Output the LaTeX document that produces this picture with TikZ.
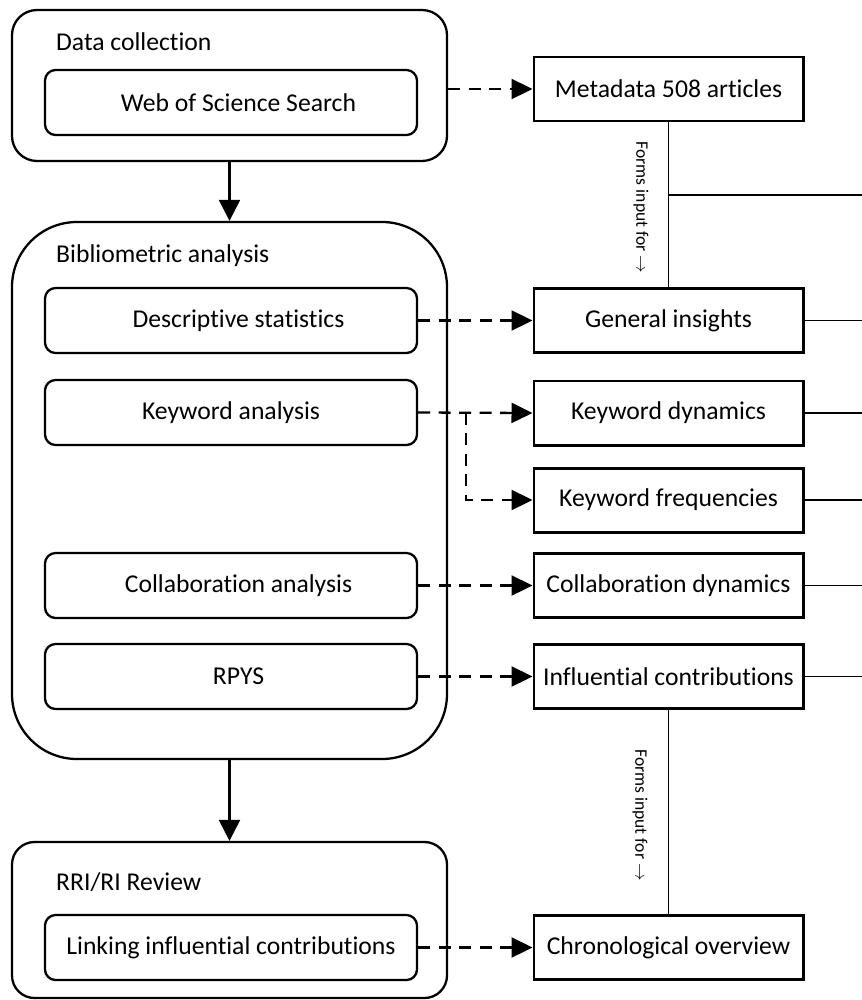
\documentclass[tikz,border=0pt]{standalone}
\usepackage{fontspec}
\setmainfont{Carlito}[Ligatures=NoCommon]
\usepackage{tikz}
\usetikzlibrary{arrows.meta, positioning, calc}

\begin{document}
\begin{tikzpicture}[
    phase/.style={draw, line width=1.3pt, minimum width=8.7cm},
    task/.style={draw, line width=1.3pt, rounded corners=6pt, minimum width=7.44cm, minimum height=1.3cm, font=\fontsize{14.6}{17}\selectfont, align=center},
    result/.style={draw, line width=1.7pt, minimum width=5.38cm, minimum height=1.28cm, font=\fontsize{14.6}{17}\selectfont, align=center, inner sep=2pt},
    title/.style={anchor=west, font=\fontsize{14.6}{17}\selectfont},
    arrow/.style={-{Triangle[length=0.42cm, width=0.4cm]}, line width=1.3pt, dash pattern=on 0.24cm off 0.17cm},
    mainarrow/.style={-{Triangle[length=0.42cm, width=0.42cm]}, line width=1.3pt},
    feed/.style={line width=0.8pt},
    note/.style={rotate=-90, font=\fontsize{10}{12}\selectfont}
]
    \useasboundingbox (0,0) rectangle (17.24,-20);
    \coordinate (rightedge) at (17.24,0);

    % Data collection
    \node[phase, rounded corners=0.5cm, minimum height=3.02cm] (dc) at (4.59,-1.71) {};
    \node[title] (dctitle) at (1.0,-0.84) {Data collection};
    \node[task] (wos) at (4.62,-2.05) {\hspace{0.3cm}Web of Science Search};

    % Bibliometric analysis
    \node[phase, rounded corners=1.3cm, minimum height=10.74cm] (ba) at (4.59,-9.81) {};
    \node[title] (batitle) at (1.0,-5.12) {Bibliometric analysis};
    \node[task] (desc) at (4.62,-6.41) {\hspace{0.3cm}Descriptive statistics};
    \node[task] (kwa) at (4.62,-8.25) {Keyword analysis};
    \node[task] (colla) at (4.62,-11.71) {\hspace{0.3cm}Collaboration analysis};
    \node[task] (rpys) at (4.62,-13.53) {\hspace{0.3cm}RPYS};

    % RRI/RI Review
    \node[phase, rounded corners=0.45cm, minimum height=3.12cm] (rri) at (4.59,-18.4) {};
    \node[title] (rrititle) at (1.0,-17.64) {RRI/RI Review};
    \node[task] (linkc) at (4.62,-18.95) {Linking influential contributions};

    % Results
    \node[result] (meta) at (13.37,-1.78) {Metadata 508 articles};
    \node[result] (gen) at (13.37,-6.41) {General insights};
    \node[result] (kwd) at (13.37,-8.26) {Keyword dynamics};
    \node[result] (kwf) at (13.37,-10.0) {Keyword frequencies};
    \node[result] (cold) at (13.37,-11.71) {Collaboration dynamics};
    \node[result] (infl) at (13.37,-13.53) {Influential contributions};
    \node[result] (chron) at (13.37,-18.95) {Chronological overview};

    % Main flow
    \draw[mainarrow] (dc) -- (ba);
    \draw[mainarrow] (ba) -- (rri);

    % Outputs
    \draw[arrow] (meta.west -| dc.east) -- (meta.west);
    \draw[arrow] (desc.east) -- (gen.west);
    \draw[arrow] (kwa.east) -- (kwd.west);
    \coordinate (split) at ($(kwa.east)!0.42!(kwd.west)$);
    \draw[arrow] (split) -- (split |- kwf.west) -- (kwf.west);
    \draw[arrow] (colla.east) -- (cold.west);
    \draw[arrow] (rpys.east) -- (infl.west);
    \draw[arrow] (linkc.east) -- (chron.west);

    % Inputs
    \draw[feed] (meta) -- (gen);
    \coordinate (junction) at ($(meta.south)!0.44!(gen.north)$);
    \coordinate (edgem) at (junction -| rightedge);
    \draw[feed] (junction) -- (edgem);
    \draw[feed] (infl) -- (chron);
    \node[note] (note1) at (12.82,-4.15) {Forms input for $\rightarrow$};
    \node[note] (note2) at (12.8,-16.3) {Forms input for $\rightarrow$};

    % Lines to the right edge
    \foreach \res in {gen, kwd, kwf, cold, infl}{
        \coordinate (edge\res) at (\res.east -| rightedge);
        \draw[feed] (\res.east) -- (edge\res);
    }
\end{tikzpicture}
\end{document}
